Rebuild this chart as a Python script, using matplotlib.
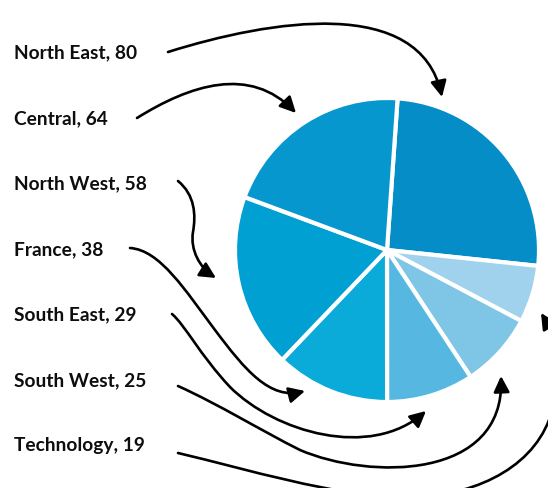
import matplotlib
matplotlib.use("Agg")
import matplotlib.pyplot as plt
from matplotlib.path import Path
from matplotlib.patches import FancyArrowPatch

# ---- data ----
regions = ["North East", "Technology", "South West", "South East", "France", "North West", "Central"]
values = [80, 19, 25, 29, 38, 58, 64]
colors = ["#058dc8", "#a0d2ee", "#7ec5e6", "#56b8e0", "#0aabd9", "#01a0d3", "#0797cf"]
label_order = ["North East", "Central", "North West", "France", "South East", "South West", "Technology"]

W, H = 548, 488
fig = plt.figure(figsize=(W / 100, H / 100), dpi=100)
ax = fig.add_axes([0, 0, 1, 1])

def fy(y):
    return H - y

ax.pie(values, colors=colors, startangle=86, counterclock=False,
       center=(387, fy(250)), radius=152, frame=True,
       wedgeprops=dict(edgecolor="white", linewidth=3.0))
ax.set_xlim(0, W)
ax.set_ylim(0, H)
ax.set_aspect("equal")
ax.axis("off")

# labels
baselines = [58.5, 124, 189.5, 255, 320.5, 386, 451.5]
val_of = dict(zip(regions, values))
for name, yb in zip(label_order, baselines):
    ax.text(14, fy(yb), f"{name}, {val_of[name]}", fontsize=13.8, fontweight="bold",
            family=["Lato", "DejaVu Sans"], color="#0d0d0d", ha="left", va="baseline")

# arrows (image coords, cubic bezier segments)
arrows = [
    [(168, 52), (270, 20), (420, -5), (442, 97)],
    [(137, 118), (190, 85), (250, 65), (296, 113)],
    [(178, 181), (195, 195), (196, 215), (193, 232), (190, 250), (200, 268), (216, 278)],
    [(130, 248), (160, 250), (185, 290), (215, 330), (245, 370), (270, 400), (305, 391)],
    [(172, 314), (185, 325), (200, 355), (230, 387), (275, 432), (370, 460), (426, 411)],
    [(178, 386), (220, 405), (260, 430), (300, 450), (370, 480), (505, 480), (501, 376)],
    [(178, 453), (250, 470), (330, 495), (400, 497), (470, 499), (530, 470), (549, 420),
     (562, 385), (558, 340), (541, 313)],
]
for pts in arrows:
    verts = [(x, fy(y)) for x, y in pts]
    codes = [Path.MOVETO] + [Path.CURVE4] * (len(verts) - 1)
    p = Path(verts, codes)
    arr = FancyArrowPatch(path=p, arrowstyle="-|>,head_length=0.4,head_width=0.2",
                          mutation_scale=24, color="black", linewidth=1.9,
                          clip_on=False)
    ax.add_patch(arr)

fig.savefig("out.png", dpi=100)
